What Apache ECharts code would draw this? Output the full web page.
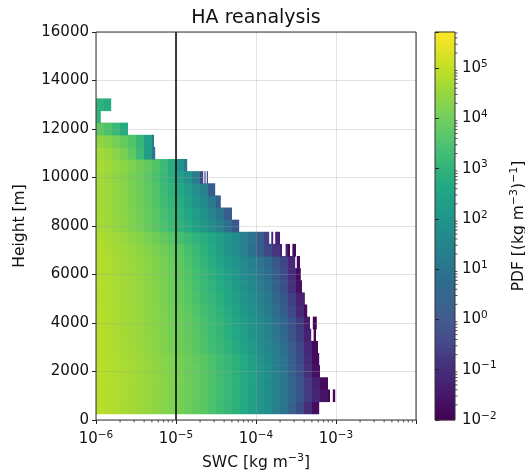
<!DOCTYPE html>
<html>
<head>
<meta charset="utf-8">
<script src="https://cdn.jsdelivr.net/npm/echarts@6/dist/echarts.min.js"></script>
<style>
html,body{margin:0;padding:0;background:#fff;}
#c{width:525px;height:473px;}
</style>
</head>
<body>
<div id="c"></div>
<script>
// ---------------- data ----------------
// height bin centres [m]; each bin is 500 m tall
const heights = [500,1000,1500,2000,2500,3000,3500,4000,4500,5000,5500,6000,6500,7000,7500,8000,8500,9000,9500,10000,10500,11000,11500,12000,12500,13000];
const binHalfHeight = 250;
// SWC bin edges, as exponents of 10 [kg m-3]
const xEdgeExp = [-6.0,-5.9,-5.8,-5.7,-5.6,-5.5,-5.4,-5.3,-5.2,-5.1,-5.0,-4.9,-4.8,-4.7,-4.6,-4.5,-4.4,-4.3,-4.2,-4.1,-4.0,-3.9,-3.8,-3.7,-3.6,-3.5,-3.4,-3.3,-3.2,-3.1,-3.0];
// largest SWC reached in each height row (exponent of 10)
const rowMaxExp = [-3.21,-3.01,-3.1,-3.2,-3.21,-3.225,-3.25,-3.24,-3.36,-3.39,-3.425,-3.44,-3.45,-3.5,-3.7,-4.21,-4.3,-4.44,-4.51,-4.6,-4.86,-5.26,-5.275,-5.6,-5.94,-5.81];
// log10 of PDF [(kg m-3)-1] per height row, per SWC bin
const row500   = [4.88,4.83,4.77,4.70,4.64,4.57,4.49,4.41,4.32,4.21,4.10,3.97,3.85,3.72,3.53,3.34,3.13,2.91,2.66,2.37,2.03,1.7,1.35,0.92,0.4,-0.25,-1.0,-1.75];
const row1000  = [4.90,4.85,4.79,4.73,4.66,4.59,4.52,4.43,4.34,4.24,4.12,4.00,3.88,3.74,3.57,3.37,3.17,2.95,2.70,2.41,2.09,1.76,1.44,1.06,0.6,0.05,-0.6,-1.2,-1.6,-1.9];
const row1500  = [4.90,4.85,4.79,4.73,4.66,4.59,4.52,4.43,4.34,4.24,4.12,4.00,3.88,3.74,3.57,3.37,3.17,2.95,2.70,2.39,2.06,1.73,1.4,1.0,0.52,-0.05,-0.7,-1.3,-1.8];
const row2000  = [4.90,4.84,4.78,4.72,4.66,4.59,4.51,4.42,4.33,4.23,4.12,3.99,3.87,3.73,3.56,3.35,3.14,2.92,2.67,2.37,2.03,1.7,1.36,0.94,0.44,-0.2,-0.95,-1.7];
const row2500  = [4.89,4.83,4.77,4.71,4.65,4.58,4.50,4.42,4.32,4.22,4.11,3.98,3.86,3.72,3.55,3.34,3.13,2.91,2.65,2.34,2.01,1.68,1.33,0.9,0.38,-0.28,-1.05,-1.8];
const row3000  = [4.88,4.82,4.75,4.68,4.61,4.53,4.45,4.35,4.25,4.13,4.01,3.88,3.74,3.57,3.37,3.17,2.95,2.71,2.43,2.13,1.82,1.53,1.18,0.76,0.25,-0.4,-1.15,-1.85];
const row3500  = [4.87,4.81,4.74,4.67,4.60,4.52,4.44,4.35,4.24,4.12,3.99,3.86,3.72,3.53,3.33,3.10,2.87,2.62,2.33,2.01,1.71,1.41,1.05,0.6,0.06,-0.6,-1.3,-1.9];
const row4000  = [4.87,4.80,4.73,4.66,4.59,4.52,4.43,4.34,4.22,4.10,3.96,3.83,3.69,3.48,3.28,3.06,2.82,2.55,2.26,1.93,1.65,1.34,0.97,0.52,-0.03,-0.7,-1.4,-1.9];
const row4500  = [4.86,4.80,4.73,4.66,4.59,4.51,4.42,4.32,4.20,4.07,3.93,3.79,3.63,3.42,3.20,2.97,2.72,2.45,2.14,1.82,1.53,1.2,0.8,0.3,-0.35,-1.1,-1.8];
const row5000  = [4.85,4.79,4.72,4.65,4.57,4.49,4.40,4.30,4.17,4.03,3.88,3.72,3.53,3.31,3.09,2.86,2.61,2.31,1.99,1.7,1.4,1.05,0.62,0.1,-0.55,-1.3,-1.85];
const row5500  = [4.84,4.78,4.71,4.64,4.56,4.48,4.39,4.27,4.14,4.00,3.84,3.68,3.46,3.24,3.01,2.76,2.49,2.18,1.86,1.58,1.27,0.9,0.45,-0.15,-0.9,-1.7];
const row6000  = [4.83,4.77,4.70,4.63,4.55,4.46,4.37,4.26,4.12,3.97,3.81,3.63,3.40,3.17,2.92,2.66,2.37,2.05,1.75,1.46,1.13,0.75,0.28,-0.3,-1.0,-1.75];
const row6500  = [4.83,4.77,4.69,4.61,4.53,4.45,4.35,4.24,4.10,3.95,3.78,3.57,3.33,3.08,2.82,2.54,2.23,1.9,1.63,1.33,0.99,0.6,0.12,-0.45,-1.1,-1.8];
const row7000  = [4.81,4.74,4.66,4.59,4.50,4.41,4.31,4.18,4.03,3.88,3.71,3.47,3.21,2.95,2.66,2.34,1.98,1.66,1.3,0.85,0.3,-0.3,-0.85,-1.35,-1.8];
const row7500  = [4.78,4.70,4.62,4.52,4.42,4.31,4.17,4.02,3.86,3.69,3.45,3.23,3.01,2.80,2.57,2.30,1.99,1.7,1.38,0.9,0.28,-0.5,-1.3];
const row8000  = [4.69,4.59,4.49,4.37,4.24,4.09,3.92,3.74,3.51,3.25,2.99,2.72,2.41,2.05,1.7,1.32,0.82,0.1];
const row8500  = [4.67,4.58,4.47,4.35,4.22,4.06,3.89,3.71,3.45,3.18,2.90,2.59,2.23,1.85,1.5,1.02,0.3];
const row9000  = [4.66,4.56,4.46,4.33,4.19,4.02,3.84,3.63,3.35,3.06,2.75,2.39,1.99,1.62,1.15,0.35];
const row9500  = [4.65,4.56,4.45,4.32,4.17,4.00,3.81,3.58,3.29,2.97,2.63,2.23,1.8,1.3,0.3];
const row10000 = [4.63,4.53,4.42,4.30,4.14,3.96,3.77,3.51,3.19,2.85,2.35,1.9,1.2,-0.3];
const row10500 = [4.69,4.59,4.49,4.36,4.21,4.03,3.84,3.61,3.29,2.76,1.9,1.1];
const row11000 = [4.65,4.52,4.35,4.12,3.81,3.25,2.30,1.0];
const row11500 = [4.42,4.28,4.11,3.89,3.61,3.13,2.37,1.2];
const row12000 = [3.81,3.56,3.19,2.70];
const row12500 = [2.95];
const row13000 = [2.95,2.76];
const logPdfRows = [row500,row1000,row1500,row2000,row2500,row3000,row3500,row4000,row4500,row5000,row5500,row6000,row6500,row7000,row7500,row8000,row8500,row9000,row9500,row10000,row10500,row11000,row11500,row12000,row12500,row13000];
// empty SWC intervals (white stripes) near the row edges: [height, exp from, exp to]
const emptyGaps = [
  [1000, -3.075, -3.04],
  [3500, -3.31, -3.28],
  [4000, -3.325, -3.29],
  [6500, -3.51, -3.49],
  [7000, -3.675, -3.63], [7000, -3.575, -3.545],
  [7500, -3.835, -3.81], [7500, -3.785, -3.76],
  [10000, -4.66, -4.645], [10000, -4.63, -4.615]
];
// threshold line and colour-scale limits
const swcThreshold = 1e-5;
const cbMinExp = -2;
const cbMaxExp = 5.72;

// ---------------- build ----------------
const FONT = 'DejaVu Sans';
const TXT = '#111';
const viridis = ['#440154','#482475','#414487','#355f8d','#2a788e','#21918c','#22a884','#42be71','#7ad151','#bddf26','#fde725'];

const cells = [];
heights.forEach((h, i) => {
  const gaps = emptyGaps.filter(g => g[0] === h);
  logPdfRows[i].forEach((v, k) => {
    if (v === null) return;
    let a = xEdgeExp[k];
    const bEnd = Math.min(xEdgeExp[k + 1], rowMaxExp[i]);
    if (a >= bEnd) return;
    const pieces = [];
    let cur = a;
    gaps.slice().sort((p, q) => p[1] - q[1]).forEach(g => {
      if (g[2] <= cur || g[1] >= bEnd) return;
      if (g[1] > cur) pieces.push([cur, g[1]]);
      cur = Math.max(cur, g[2]);
    });
    if (cur < bEnd) pieces.push([cur, bEnd]);
    pieces.forEach(p => cells.push([Math.pow(10, p[0]), Math.pow(10, p[1]), h - binHalfHeight, h + binHalfHeight, v]));
  });
});

// colour bar strips
const cbStep = 0.02;
const cbData = [];
for (let v = cbMinExp; v < cbMaxExp - 1e-9; v += cbStep) {
  const hi = Math.min(v + cbStep, cbMaxExp);
  cbData.push([0, 1, Math.pow(10, v), Math.pow(10, hi), (v + hi) / 2]);
}

// minor ticks of the log axes
const xMinor = [];
for (let n = -6; n <= -3; n++) for (let m = 2; m <= 9; m++) xMinor.push([m * Math.pow(10, n), 0]);
const cbMinor = [];
for (let n = -2; n <= 5; n++) for (let m = 2; m <= 9; m++) {
  const val = m * Math.pow(10, n);
  if (Math.log10(val) < cbMaxExp) cbMinor.push([1, val]);
}

function rectItem(params, api) {
  const p0 = api.coord([api.value(0), api.value(2)]);
  const p1 = api.coord([api.value(1), api.value(3)]);
  return {
    type: 'rect',
    shape: { x: p0[0], y: p1[1] - 0.3, width: Math.max(p1[0] - p0[0], 0.6), height: p0[1] - p1[1] + 0.6 },
    style: { fill: api.visual('color') }
  };
}

function supLabel(e) {
  const s = e < 0 ? '\u2212' + (-e) : String(e);
  return '{b|10}{s|' + s + '}';
}
const rich = {
  b: { fontSize: 15, fontFamily: FONT, color: TXT, lineHeight: 19 },
  s: { fontSize: 10.5, fontFamily: FONT, color: TXT, verticalAlign: 'top' }
};
const nameRich = {
  b: { fontSize: 15.5, fontFamily: FONT, color: TXT, lineHeight: 19 },
  s: { fontSize: 11, fontFamily: FONT, color: TXT, verticalAlign: 'top' }
};

const chart = echarts.init(document.getElementById('c'), null, { renderer: 'canvas' });
chart.setOption({
  animation: false,
  backgroundColor: '#fff',
  title: {
    text: 'HA reanalysis',
    left: 256, top: 9, padding: 0, textAlign: 'center',
    textStyle: { fontFamily: FONT, fontSize: 19, fontWeight: 'normal', color: TXT }
  },
  grid: [
    { left: 96, top: 32, width: 320, height: 388, containLabel: false, outerBoundsMode: 'none', show: true, borderColor: '#333', borderWidth: 1, backgroundColor: 'transparent', z: 10 },
    { left: 435, top: 32, width: 20, height: 388, containLabel: false, outerBoundsMode: 'none', show: true, borderColor: '#333', borderWidth: 1, backgroundColor: 'transparent', z: 10 }
  ],
  xAxis: [
    {
      type: 'log', logBase: 10, gridIndex: 0, min: 1e-6, max: 1e-2, splitNumber: 4, z: 3,
      axisLine: { show: false },
      axisTick: { show: true, length: 4, lineStyle: { color: '#222', width: 1 } },
      minorTick: { show: false },
      splitLine: { show: true, lineStyle: { color: 'rgba(160,160,160,0.3)', width: 1 } },
      axisLabel: {
        margin: 10, rich: rich,
        formatter: function (v) {
          const e = Math.round(Math.log10(v));
          if (e >= -2) return '';
          return supLabel(e);
        }
      },
      name: '{b|SWC [kg m}{s|\u22123}{b|]}',
      nameLocation: 'middle', nameGap: 33,
      nameTextStyle: { rich: nameRich }
    },
    { type: 'value', gridIndex: 1, min: 0, max: 1, show: false }
  ],
  yAxis: [
    {
      type: 'value', gridIndex: 0, min: 0, max: 16000, interval: 2000, z: 3,
      axisLine: { show: false },
      axisTick: { show: true, length: 4, lineStyle: { color: '#222', width: 1 } },
      splitLine: { show: true, lineStyle: { color: 'rgba(160,160,160,0.3)', width: 1 } },
      axisLabel: { margin: 7, fontSize: 15, fontFamily: FONT, color: TXT, formatter: function (v) { return String(v); } },
      name: 'Height [m]', nameLocation: 'middle', nameGap: 68, nameRotate: 90,
      nameTextStyle: { fontSize: 15.5, fontFamily: FONT, color: TXT }
    },
    {
      type: 'log', logBase: 10, gridIndex: 1, position: 'right', min: Math.pow(10, cbMinExp), max: Math.pow(10, cbMaxExp),
      splitNumber: 8, z: 3,
      axisLine: { show: false },
      axisTick: { show: true, length: 4, lineStyle: { color: '#222', width: 1 } },
      splitLine: { show: false },
      axisLabel: {
        margin: 7, rich: rich,
        formatter: function (v) {
          const l = Math.log10(v);
          const e = Math.round(l);
          if (Math.abs(l - e) > 1e-6) return '';
          return supLabel(e);
        }
      },
      name: '{b|PDF [(kg m}{s|\u22123}{b|)}{s|\u22121}{b|]}',
      nameLocation: 'middle', nameGap: 54, nameRotate: 90,
      nameTextStyle: { rich: nameRich }
    }
  ],
  visualMap: {
    type: 'continuous', show: false, dimension: 4, min: cbMinExp, max: cbMaxExp,
    seriesIndex: [0, 1], inRange: { color: viridis }
  },
  series: [
    {
      type: 'custom', name: 'PDF', xAxisIndex: 0, yAxisIndex: 0, z: 1,
      renderItem: rectItem, encode: { x: [0, 1], y: [2, 3] }, data: cells
    },
    {
      type: 'custom', name: 'colorbar', xAxisIndex: 1, yAxisIndex: 1, z: 1,
      renderItem: rectItem, encode: { x: [0, 1], y: [2, 3] }, data: cbData
    },
    {
      type: 'line', xAxisIndex: 0, yAxisIndex: 0, z: 8, symbol: 'none', silent: true,
      lineStyle: { color: '#000', width: 1.5 },
      data: [[swcThreshold, 0], [swcThreshold, 16000]]
    },
    {
      type: 'custom', xAxisIndex: 0, yAxisIndex: 0, z: 8, silent: true, clip: false,
      encode: { x: 0, y: 1 }, data: xMinor,
      renderItem: function (params, api) {
        const p = api.coord([api.value(0), 0]);
        return { type: 'line', shape: { x1: p[0], y1: p[1], x2: p[0], y2: p[1] + 2.5 }, style: { stroke: '#222', lineWidth: 0.8 } };
      }
    },
    {
      type: 'custom', xAxisIndex: 1, yAxisIndex: 1, z: 8, silent: true, clip: false,
      encode: { x: 0, y: 1 }, data: cbMinor,
      renderItem: function (params, api) {
        const p = api.coord([1, api.value(1)]);
        return { type: 'line', shape: { x1: p[0], y1: p[1], x2: p[0] + 2.5, y2: p[1] }, style: { stroke: '#222', lineWidth: 0.8 } };
      }
    }
  ]
});
</script>
</body>
</html>
